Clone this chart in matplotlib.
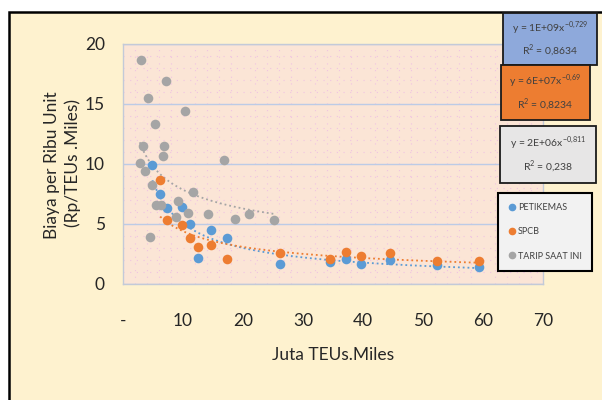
import numpy as np
import matplotlib.pyplot as plt
from matplotlib.patches import Rectangle
from matplotlib.lines import Line2D

plt.rcParams['font.family'] = ['Lato', 'DejaVu Sans']
plt.rcParams['mathtext.fontset'] = 'custom'
plt.rcParams['mathtext.rm'] = 'Lato'

# PETIKEMAS
x_peti = [4.9, 6.2, 7.4, 9.9, 11.1, 12.55, 14.7, 17.3, 26.1, 34.5, 37.2, 39.7, 44.5, 52.3, 59.4]
y_peti = [9.9, 7.5, 6.3, 6.4, 5.0, 2.2, 4.5, 3.8, 1.65, 1.8, 2.1, 1.65, 2.0, 1.6, 1.45]
# SPCB
x_spcb = [6.2, 7.4, 9.9, 11.1, 12.55, 14.7, 17.3, 26.1, 34.5, 37.2, 39.7, 44.5, 52.3, 59.4]
y_spcb = [8.65, 5.3, 4.9, 3.8, 3.05, 3.25, 2.05, 2.55, 2.05, 2.7, 2.35, 2.55, 1.9, 1.9]
# TARIP SAAT INI
x_tarip = [3.0, 7.1, 4.2, 10.4, 5.4, 3.4, 6.8, 6.6, 2.8, 16.9, 3.7, 4.9, 11.6, 9.1, 6.3,
           5.5, 8.9, 10.8, 14.2, 18.7, 21.0, 25.1, 4.5]
y_tarip = [18.7, 16.9, 15.5, 14.4, 13.3, 11.5, 11.5, 10.7, 10.1, 10.3, 9.4, 8.25, 7.7, 6.9, 6.6,
           6.6, 5.6, 5.9, 5.8, 5.4, 5.8, 5.3, 3.95]

names = ['PETIKEMAS', 'SPCB', 'TARIP SAAT INI']
colors = ['#5B9BD5', '#ED7D31', '#A5A5A5']
equations = ['y = 1E+09x$^{-0{,}729}$\nR$^2$ = 0,8634',
             'y = 6E+07x$^{-0{,}69}$\nR$^2$ = 0,8234',
             'y = 2E+06x$^{-0{,}811}$\nR$^2$ = 0,238']

xticks = [0, 10, 20, 30, 40, 50, 60, 70]
xticklabels = ['-', '10', '20', '30', '40', '50', '60', '70']

W, H = 602, 400
fig = plt.figure(figsize=(6.02, 4.0), dpi=100)
fig.patch.set_facecolor('white')

# chart area
fig.patches.append(Rectangle((9 / W, -0.1), 1.2, (400 - 12) / H + 0.1, transform=fig.transFigure,
                             facecolor='#FEF2CF', edgecolor='black', lw=1.8, zorder=-5))

ax = fig.add_axes([123 / W, 1 - 284 / H, 420 / W, 240 / H], zorder=1)
ax.set_facecolor('#FBE5D6')
for s in ax.spines.values():
    s.set_color('#C3CAD8')
    s.set_linewidth(1.0)

ax.set_xlim(0, 70)
ax.set_ylim(0, 20)
ax.set_xticks(xticks)
ax.set_xticklabels(xticklabels)
ax.set_yticks([0, 5, 10, 15, 20])
ax.set_yticks(np.arange(0, 20, 1), minor=True)
ax.set_xticks(np.arange(0, 70, 2), minor=True)
ax.tick_params(which='both', length=0)
ax.tick_params(axis='y', pad=13, labelsize=12.5, colors='#262626')
ax.tick_params(axis='x', pad=21, labelsize=12.5, colors='#262626')
ax.grid(which='major', axis='y', color='#BCCBE6', lw=1.0)
ax.grid(which='minor', color='#F0C4E2', lw=0.8, ls=(0, (1, 5)))
ax.set_axisbelow(True)

series = [(x_peti, y_peti), (x_spcb, y_spcb), (x_tarip, y_tarip)]
for (xs, ys), c, n in zip(series, colors, names):
    xs = np.array(xs)
    ys = np.array(ys)
    # power trendline, like excel
    b, a = np.polyfit(np.log(xs), np.log(ys), 1)
    xf = np.linspace(xs.min(), xs.max(), 200)
    ax.plot(xf, np.exp(a) * xf ** b, ls=':', color=c, lw=1.3, zorder=2)
    ax.scatter(xs, ys, s=48, color=c, zorder=3, label=n, linewidths=0)

# equation boxes
boxes = [(503, 13, 597, 65, '#8EA9DB'), (501, 65, 590, 120, '#ED7D31'), (500, 126, 596, 183, '#E7E6E6')]
for (x0, y0, x1, y1, fc), eq in zip(boxes, equations):
    fig.patches.append(Rectangle((x0 / W, 1 - y1 / H), (x1 - x0) / W, (y1 - y0) / H,
                                 transform=fig.transFigure, facecolor=fc, edgecolor='#1a1a1a',
                                 lw=1.3, zorder=5))
    fig.text((x0 + x1) / 2 / W, 1 - (y0 + y1) / 2 / H, eq, ha='center', va='center',
             fontsize=7.5, color='#404040', linespacing=1.5, zorder=6)

handles = [Line2D([], [], marker='o', ls='', color=c, markersize=4.5) for c in colors]
leg = fig.legend(handles, names, loc='upper left', bbox_to_anchor=(498 / W, 1 - 193 / H),
                 fontsize=6.5, frameon=True, fancybox=False, edgecolor='black',
                 facecolor='#F2F2F2', framealpha=1, labelspacing=1.7, handletextpad=0.1,
                 handlelength=1.0, borderpad=1.1, borderaxespad=0)
leg.set_zorder(7)
leg.get_frame().set_linewidth(1.5)
for t in leg.get_texts():
    t.set_color('#404040')

fig.text(333 / W, 1 - 355 / H, 'Juta TEUs.Miles', ha='center', va='center', fontsize=12.5, color='#262626')
fig.text(52 / W, 1 - 165.5 / H, 'Biaya per Ribu Unit', ha='center', va='center', rotation=90,
         fontsize=12.5, color='#262626')
fig.text(73 / W, 1 - 163.5 / H, '(Rp/TEUs .Miles)', ha='center', va='center', rotation=90,
         fontsize=12.5, color='#262626')

fig.savefig('out.png', dpi=100)
